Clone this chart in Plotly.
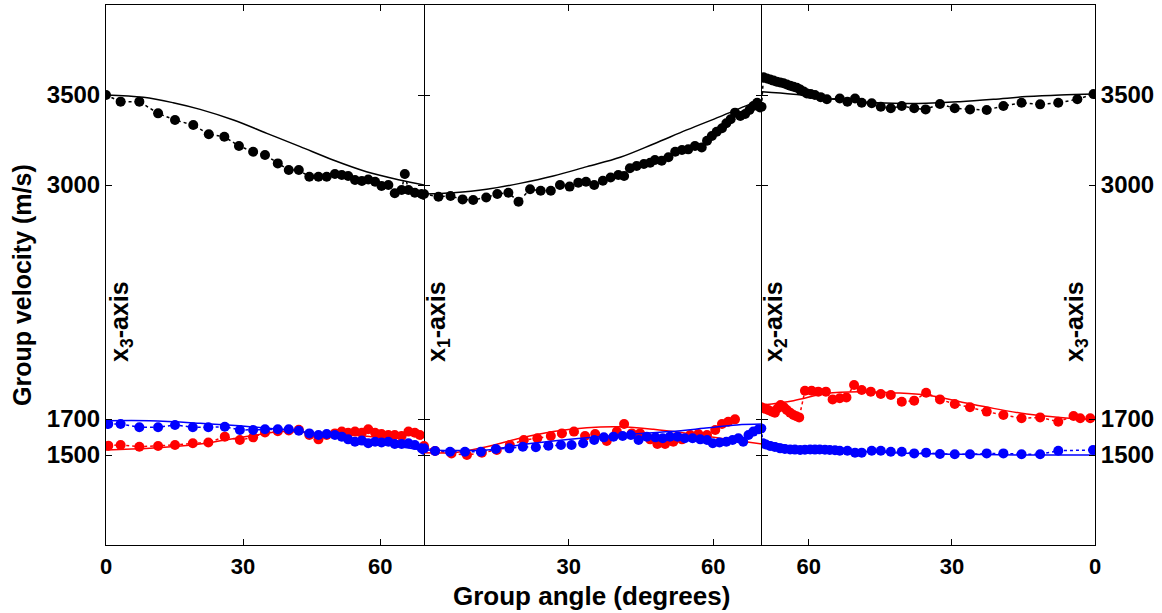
import plotly.graph_objects as go

# ---------------- data ----------------
# Panel 1: from x3-axis (0 deg) towards x1-axis
p1_qp_ang = [0, 3.2, 7.3, 11.4, 15.1, 19.1, 22.5, 25.9, 29.1, 32.2, 34.8, 37.6, 40.0, 42.2, 44.5, 46.5,
             48.3, 50.1, 51.6, 53.0, 54.5, 56.0, 57.4, 58.9, 60.3, 61.8, 63.2, 64.7, 65.4, 66.2, 67.6, 69.1, 69.6]
p1_qp_vel = [3500, 3463, 3463, 3398, 3361, 3333, 3282, 3268, 3217, 3185, 3167, 3120, 3083, 3083, 3046, 3046,
             3046, 3061, 3056, 3050, 3028, 3022, 3031, 3018, 2994, 3000, 2954, 2972, 3061, 2972, 2957, 2950, 2944]
p1_qp_th_ang = [0, 8.2, 14.7, 20.6, 27.9, 35.2, 42.5, 49.7, 57.0, 64.3, 69.6]
p1_qp_th_vel = [3500, 3487, 3457, 3420, 3361, 3287, 3213, 3139, 3074, 3028, 3000]

p1_s1_ang = [0.5, 3.2, 7.3, 11.4, 15.1, 19.0, 22.4, 26.0, 29.3, 32.2, 34.8, 37.6, 40.0, 42.2, 44.5, 46.5,
             48.3, 50.1, 51.6, 53.0, 54.5, 56.0, 57.4, 58.9, 60.3, 61.8, 63.2, 64.7, 66.2, 67.6, 68.7, 69.6]
p1_s1_vel = [1552, 1556, 1546, 1550, 1556, 1565, 1569, 1602, 1583, 1598, 1625, 1632, 1636, 1640, 1611, 1587,
             1611, 1620, 1630, 1624, 1630, 1624, 1643, 1624, 1617, 1611, 1611, 1606, 1630, 1624, 1611, 1550]
p1_s1_th_ang = [0, 9.6, 20.6, 31.5, 38.8, 46.1, 53.4, 60.7, 68.0, 69.6]
p1_s1_th_vel = [1528, 1537, 1561, 1606, 1630, 1620, 1611, 1593, 1556, 1545]

p1_s2_ang = [0.5, 3.2, 7.3, 11.4, 15.1, 19.0, 22.4, 26.0, 29.3, 32.2, 34.8, 37.6, 40.0, 42.2, 44.5, 46.5,
             48.3, 50.1, 51.6, 53.0, 54.5, 56.0, 57.4, 58.9, 60.3, 61.8, 63.2, 64.7, 66.2, 67.6, 69.1, 69.6]
p1_s2_vel = [1672, 1672, 1654, 1654, 1667, 1654, 1654, 1657, 1639, 1639, 1643, 1643, 1643, 1635, 1620, 1611,
             1617, 1611, 1602, 1587, 1574, 1580, 1565, 1574, 1569, 1574, 1561, 1561, 1565, 1556, 1537, 1528]
p1_s2_th_ang = [0, 9.6, 20.6, 31.5, 42.5, 49.7, 57.0, 64.3, 69.6]
p1_s2_th_vel = [1690, 1690, 1676, 1657, 1630, 1602, 1574, 1546, 1526]

# Panel 2: from x1-axis (0 deg) towards x2-axis
p2_qp_ang = [0, 3.0, 5.5, 8.0, 10.2, 12.9, 15.2, 17.5, 19.6, 22.0, 24.2, 26.3, 28.2, 30.2, 32.0, 33.6,
             35.3, 37.1, 38.7, 40.3, 41.5, 42.7, 44.1, 45.6, 46.9, 47.9, 49.3, 50.7, 52.1, 53.5, 54.8, 56.2,
             57.6, 58.7, 59.7, 60.7, 61.8, 62.7, 63.6, 64.5, 65.6, 66.6, 67.5, 68.3, 69.1, 69.7]
p2_qp_vel = [2950, 2935, 2939, 2920, 2917, 2931, 2950, 2957, 2907, 2976, 2968, 2968, 3000, 2991, 3013, 3018,
             3000, 3024, 3042, 3056, 3050, 3093, 3106, 3117, 3124, 3139, 3135, 3154, 3185, 3194, 3198, 3217,
             3209, 3246, 3272, 3296, 3315, 3343, 3365, 3402, 3383, 3394, 3417, 3439, 3457, 3431]
p2_qp_th_ang = [0, 6.1, 13.0, 19.9, 26.8, 33.8, 40.7, 47.6, 54.5, 61.4, 69.0, 70.1]
p2_qp_th_vel = [2950, 2957, 2976, 3009, 3050, 3102, 3154, 3228, 3306, 3380, 3463, 3470]

p2_s1_ang = [0, 2.3, 5.7, 8.9, 12.0, 15.1, 17.8, 20.7, 23.5, 26.3, 28.6, 31.1, 33.4, 35.5, 37.9, 40.0,
             41.5, 43.1, 44.8, 46.9, 48.4, 50.0, 51.7, 53.5, 55.2, 56.9, 58.7, 60.4, 61.8, 63.1, 64.5]
p2_s1_vel = [1550, 1522, 1509, 1500, 1513, 1528, 1556, 1583, 1593, 1606, 1620, 1630, 1606, 1617, 1578, 1630,
             1672, 1620, 1620, 1587, 1561, 1561, 1574, 1587, 1611, 1617, 1611, 1639, 1672, 1685, 1698]
p2_s1_th_ang = [0, 6.1, 13.0, 19.9, 26.8, 33.8, 40.7, 47.6, 54.5, 61.4, 70.1]
p2_s1_th_vel = [1513, 1513, 1546, 1593, 1630, 1652, 1657, 1643, 1620, 1593, 1561]

p2_s2_ang = [0, 2.3, 5.4, 8.5, 11.8, 14.9, 17.7, 20.5, 23.2, 25.8, 28.4, 30.6, 33.0, 35.3, 37.3, 39.3,
             41.2, 42.9, 44.5, 46.2, 48.0, 49.5, 51.0, 52.6, 54.1, 55.7, 57.3, 58.7, 59.9, 61.3, 62.7, 64.0,
             65.2, 66.2, 67.3, 68.3, 69.4]
p2_s2_vel = [1537, 1522, 1518, 1518, 1518, 1533, 1537, 1546, 1543, 1552, 1556, 1556, 1565, 1583, 1598, 1602,
             1606, 1611, 1583, 1602, 1598, 1593, 1602, 1602, 1593, 1593, 1587, 1583, 1565, 1569, 1574, 1583,
             1593, 1574, 1611, 1630, 1643]
p2_s2_th_ang = [0, 13.0, 19.9, 30.3, 40.7, 51.0, 58.0, 64.9, 70.1]
p2_s2_th_vel = [1528, 1528, 1556, 1587, 1611, 1630, 1648, 1667, 1672]

# Panel 3: from x2-axis back to x3-axis (0 deg at the right)
p3_qp_ang = [69.9, 69.5, 68.8, 68.1, 67.4, 66.7, 66.0, 65.3, 64.6, 63.9, 63.2, 62.5, 61.8, 61.1, 60.4,
             59.6, 58.7, 57.5, 56.2, 53.5, 51.9, 50.3, 48.9, 46.8, 44.9, 42.8, 40.5, 37.9, 35.5, 32.5,
             29.4, 26.2, 22.7, 19.2, 15.4, 11.5, 7.7, 3.7, 0.3]
p3_qp_vel = [3435, 3598, 3592, 3586, 3580, 3574, 3570, 3565, 3558, 3552, 3546, 3540, 3530, 3520, 3509,
             3505, 3500, 3488, 3476, 3481, 3463, 3481, 3457, 3454, 3435, 3426, 3439, 3426, 3420, 3450,
             3426, 3420, 3417, 3439, 3457, 3448, 3457, 3476, 3505]
p3_qp_th_ang = [69.8, 63.2, 56.2, 49.3, 42.3, 35.3, 28.3, 21.3, 14.3, 7.3, 0]
p3_qp_th_vel = [3518, 3504, 3481, 3463, 3454, 3454, 3463, 3476, 3491, 3500, 3505]

p3_s1_ang = [69.9, 69.2, 68.5, 67.8, 67.1, 66.5, 65.9, 65.2, 64.6, 63.9, 63.2, 62.6, 62.0, 60.8, 59.4,
             58.0, 56.4, 55.0, 53.5, 52.1, 50.5, 48.9, 47.0, 44.9, 42.8, 40.5, 37.9, 35.4, 32.5, 29.4,
             26.2, 22.7, 19.2, 15.4, 11.5, 7.7, 4.5, 3.1, 1.0]
p3_s1_vel = [1765, 1758, 1750, 1742, 1735, 1760, 1778, 1765, 1750, 1735, 1722, 1715, 1709, 1857, 1857,
             1852, 1852, 1809, 1815, 1820, 1889, 1861, 1852, 1839, 1833, 1796, 1802, 1846, 1809, 1783,
             1765, 1741, 1722, 1704, 1709, 1685, 1717, 1704, 1704]
p3_s1_th_ang = [69.8, 63.2, 56.2, 49.3, 42.3, 35.3, 28.3, 21.3, 14.3, 7.3, 1.0]
p3_s1_th_vel = [1778, 1802, 1843, 1852, 1846, 1833, 1796, 1759, 1728, 1709, 1698]

p3_s2_ang = [69.95, 69.6, 69.0, 68.1, 67.1, 66.0, 65.0, 63.9, 62.9, 61.8, 60.8, 59.7, 58.7, 57.7, 56.6,
             55.6, 54.5, 53.5, 51.9, 50.3, 48.9, 46.8, 44.9, 42.8, 40.5, 37.9, 35.4, 32.5, 29.4, 26.2,
             22.7, 19.2, 15.4, 11.5, 7.7, 0.4]
p3_s2_vel = [1648, 1565, 1558, 1550, 1544, 1537, 1534, 1531, 1530, 1528, 1529, 1531, 1530, 1531, 1529,
             1528, 1526, 1524, 1524, 1513, 1513, 1524, 1524, 1518, 1518, 1509, 1513, 1506, 1504, 1504,
             1509, 1509, 1504, 1504, 1524, 1528]
p3_s2_th_ang = [69.8, 63.2, 56.2, 42.3, 28.3, 14.3, 0]
p3_s2_th_vel = [1583, 1546, 1531, 1513, 1504, 1500, 1500]

vel_ticks = [1500, 1700, 3000, 3500]
angle_ticks = [0, 30, 60]
panel_labels = ["x<sub>3</sub>-axis", "x<sub>1</sub>-axis", "x<sub>2</sub>-axis", "x<sub>3</sub>-axis"]

# ---------------- figure ----------------
BLACK, RED, BLUE = "#000000", "#ff0000", "#0000ff"
FONT = "Liberation Sans, Arial, sans-serif"
NARROW = "Liberation Sans Narrow, Arial Narrow, Liberation Sans, sans-serif"

panels = [
    ("x", "y", [(p1_qp_ang, p1_qp_vel, p1_qp_th_ang, p1_qp_th_vel, BLACK),
                (p1_s1_ang, p1_s1_vel, p1_s1_th_ang, p1_s1_th_vel, RED),
                (p1_s2_ang, p1_s2_vel, p1_s2_th_ang, p1_s2_th_vel, BLUE)]),
    ("x2", "y2", [(p2_qp_ang, p2_qp_vel, p2_qp_th_ang, p2_qp_th_vel, BLACK),
                  (p2_s1_ang, p2_s1_vel, p2_s1_th_ang, p2_s1_th_vel, RED),
                  (p2_s2_ang, p2_s2_vel, p2_s2_th_ang, p2_s2_th_vel, BLUE)]),
    ("x3", "y3", [(p3_qp_ang, p3_qp_vel, p3_qp_th_ang, p3_qp_th_vel, BLACK),
                  (p3_s1_ang, p3_s1_vel, p3_s1_th_ang, p3_s1_th_vel, RED),
                  (p3_s2_ang, p3_s2_vel, p3_s2_th_ang, p3_s2_th_vel, BLUE)]),
]

fig = go.Figure()
for xa, ya, series in panels:
    for ang, vel, th_ang, th_vel, col in series:
        # measured group velocities: dots joined by a dotted line
        fig.add_trace(go.Scatter(x=ang, y=vel, xaxis=xa, yaxis=ya, mode="lines+markers",
                                 line=dict(color=col, width=1.5, dash="dot"),
                                 marker=dict(color=col, size=10), showlegend=False))
        # theoretical curve
        fig.add_trace(go.Scatter(x=th_ang, y=th_vel, xaxis=xa, yaxis=ya, mode="lines",
                                 line=dict(color=col, width=1.5, shape="spline"), showlegend=False))

L, R, T, B = 106, 1095, 5, 545
W, H = 1162, 613
pw = R - L


def fx(px):
    return (px - L) / pw


def fy(py):
    return (B - py) / (B - T)


common_x = dict(showline=True, linecolor="black", linewidth=1, mirror="ticks", ticks="inside",
                ticklen=6, tickcolor="black", showgrid=False, zeroline=False, ticklabelstandoff=2,
                tickfont=dict(family=NARROW, size=22, color="black", weight="bold"))
common_y = dict(range=[1000, 4000], tickvals=vel_ticks, linecolor="black", linewidth=1,
                mirror="ticks", ticks="inside", ticklen=6, tickcolor="black", showgrid=False,
                zeroline=False, tickfont=dict(family=FONT, size=24, color="black", weight="bold"))

fig.update_layout(
    width=W, height=H,
    margin=dict(l=L, r=W - R, t=T, b=H - B),
    paper_bgcolor="white", plot_bgcolor="white",
    xaxis=dict(domain=[0, fx(424)], range=[0, 69.6], tickvals=angle_ticks, anchor="y", **common_x),
    xaxis2=dict(domain=[fx(424), fx(762)], range=[0, 70.1], tickvals=[30, 60], anchor="y2", **common_x),
    xaxis3=dict(domain=[fx(762), 1], range=[69.8, 0], tickvals=angle_ticks, anchor="y3", **common_x),
    # panel borders come from the outer panels' mirrored lines, so the middle one draws no line
    yaxis=dict(anchor="x", side="left", showline=True, **common_y),
    yaxis2=dict(anchor="x2", showticklabels=False, showline=False, **common_y),
    yaxis3=dict(anchor="x3", side="right", showline=True, **common_y),
)

annotations = [
    dict(text="Group velocity (m/s)", x=fx(22), y=fy(285), textangle=-90,
         font=dict(family=FONT, size=25, color="black", weight="bold")),
    dict(text="Group angle (degrees)", x=fx(591), y=fy(596),
         font=dict(family=NARROW, size=26, color="black", weight="bold")),
]
for lab, px in zip(panel_labels, [121, 438, 775, 1076]):
    annotations.append(dict(text=lab, x=fx(px), y=fy(322), textangle=-90,
                            font=dict(family=FONT, size=25, color="black", weight="bold")))
for a in annotations:
    a.update(xref="paper", yref="paper", showarrow=False, xanchor="center", yanchor="middle")
fig.update_layout(annotations=annotations)

fig.write_html("out.html")
